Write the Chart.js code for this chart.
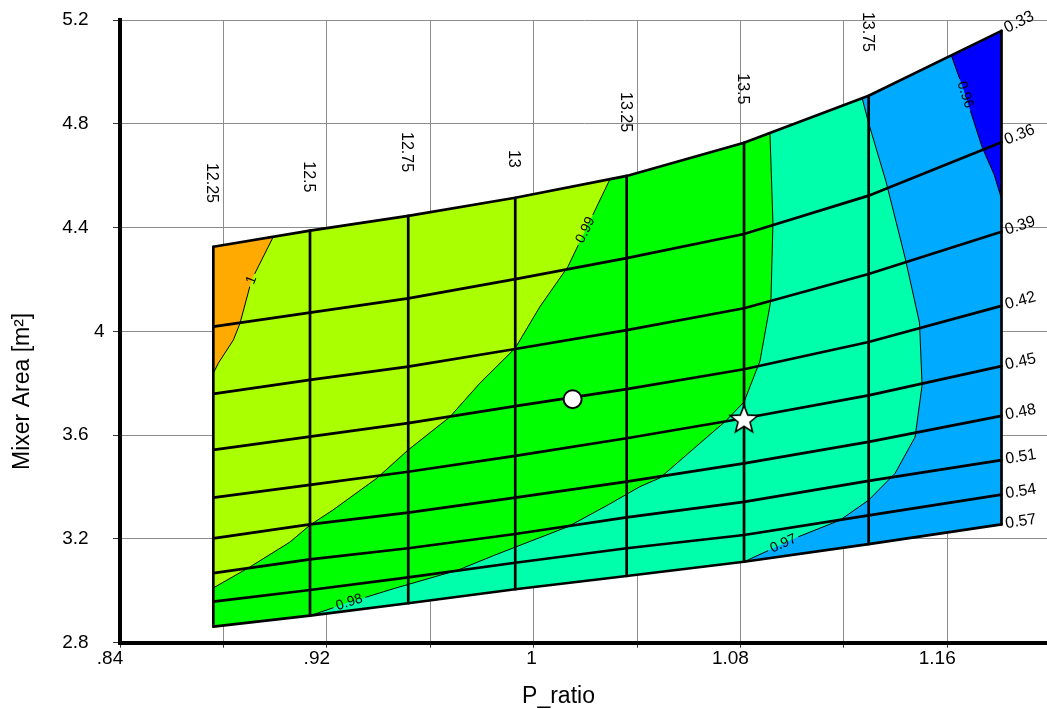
<!DOCTYPE html>
<html>
<head>
<meta charset="utf-8">
<title>Carpet plot – Mixer Area vs P_ratio</title>
<script src="https://cdn.jsdelivr.net/npm/chart.js@4/dist/chart.umd.min.js"></script>
<style>
html, body { margin:0; padding:0; background:#ffffff; }
canvas { display:block; }
</style>
</head>
<body>
<canvas id="chart" width="1047" height="709"></canvas>
<script>
// ================= DATA =================
const carpetA = [12.25, 12.5, 12.75, 13, 13.25, 13.5, 13.75, 14];
const carpetB = [0.33, 0.36, 0.39, 0.42, 0.45, 0.48, 0.51, 0.54, 0.57];
const pRatioAtA = [0.8761, 0.9135, 0.9515, 0.9929, 1.0360, 1.0814, 1.1296, 1.1810];
// Mixer area at each carpet node, one array per A line (ordered by carpetB)
const area_12_25 = [4.326, 4.018, 3.759, 3.543, 3.359, 3.202, 3.068, 2.958, 2.862];
const area_12_50 = [4.388, 4.072, 3.813, 3.594, 3.408, 3.256, 3.121, 3.003, 2.904];
const area_12_75 = [4.445, 4.127, 3.864, 3.646, 3.459, 3.301, 3.164, 3.052, 2.952];
const area_13_00 = [4.515, 4.201, 3.932, 3.712, 3.520, 3.359, 3.219, 3.108, 3.006];
const area_13_25 = [4.599, 4.282, 4.005, 3.777, 3.588, 3.421, 3.283, 3.164, 3.057];
const area_13_50 = [4.727, 4.375, 4.089, 3.854, 3.665, 3.491, 3.343, 3.215, 3.112];
const area_13_75 = [4.908, 4.523, 4.221, 3.959, 3.753, 3.574, 3.424, 3.291, 3.180];
const area_14_00 = [5.158, 4.729, 4.384, 4.098, 3.866, 3.674, 3.504, 3.371, 3.256];
const aLineLabels = ['12.25', '12.5', '12.75', '13', '13.25', '13.5', '13.75', ''];
const bLineLabels = ['0.33', '0.36', '0.39', '0.42', '0.45', '0.48', '0.51', '0.54', '0.57'];
// contour lines, in carpet coordinates [A, B]
const contourLevels = ['1', '0.99', '0.98', '0.97', '0.96'];
const contour_1_00 = [[12.405,0.33],[12.349,0.3447],[12.319,0.3602],[12.302,0.3672],[12.263,0.3766],[12.25,0.3808]];
const contour_0_99 = [[13.2125,0.33],[13.118,0.3591],[13.055,0.3738],[13.0,0.3896],[12.9175,0.4049],[12.847,0.4203],[12.75,0.4365],[12.6705,0.4516],[12.5585,0.4712],[12.5,0.4806],[12.448,0.4927],[12.345,0.5091],[12.25,0.5255]];
const contour_0_98 = [[13.552,0.33],[13.558,0.3593],[13.554,0.3896],[13.532,0.4177],[13.5,0.440],[13.4596,0.4501],[13.406,0.4618],[13.321,0.4812],[13.2783,0.4859],[13.208,0.4973],[13.118,0.5106],[13.0218,0.5212],[12.9526,0.5291],[12.866,0.5395],[12.716,0.5507],[12.594,0.5607],[12.5,0.57]];
const contour_0_97 = [[13.737,0.33],[13.75,0.3382],[13.7828,0.358],[13.8186,0.3883],[13.8457,0.4177],[13.8506,0.4509],[13.8374,0.4831],[13.7998,0.5075],[13.75,0.5268],[13.6928,0.5403],[13.6064,0.5516],[13.5,0.57]];
const contour_0_96 = [[13.9056,0.33],[13.928,0.3409],[13.9637,0.3593],[13.9865,0.3701],[14,0.379]];
// highlighted points [P_ratio, Mixer Area]
const designPoint = [1.0151, 3.7385];
const optimumPoint = [1.0814, 3.658];
// axes
const xRange = [0.84, 1.1986];
const yRange = [2.8, 5.2];
const xTickValues = [0.84, 0.88, 0.92, 0.96, 1.00, 1.04, 1.08, 1.12, 1.16];
const xTickText = ['.84', '', '.92', '', '1', '', '1.08', '', '1.16'];
const yTickValues = [2.8, 3.2, 3.6, 4.0, 4.4, 4.8, 5.2];
const yTickText = ['2.8', '3.2', '3.6', '4', '4.4', '4.8', '5.2'];
const xTitle = 'P_ratio';
const yTitle = 'Mixer Area [m²]';

// ================= STYLE =================
const FONT = "'Liberation Sans', Arial, Helvetica, sans-serif";
const fillColors = ['#FFAA00', '#AAFF00', '#00FF00', '#00FFAA', '#00AAFF', '#0000FF'];
const contourLabelAt = [1.0, 0.58, 14.95, 10.26, 1.1];

// ================= BUILD =================
const areaCols = [area_12_25, area_12_50, area_12_75, area_13_00, area_13_25, area_13_50, area_13_75, area_14_00];
const contours = [contour_1_00, contour_0_99, contour_0_98, contour_0_97, contour_0_96];
const nA = carpetA.length, nB = carpetB.length;
const A0 = carpetA[0], A1 = carpetA[nA - 1], B0 = carpetB[0], B1 = carpetB[nB - 1];

function carpetXY(a, b) {
  let i = 0; while (i < nA - 2 && a > carpetA[i + 1]) i++;
  let j = 0; while (j < nB - 2 && b > carpetB[j + 1]) j++;
  const fa = (a - carpetA[i]) / (carpetA[i + 1] - carpetA[i]);
  const fb = (b - carpetB[j]) / (carpetB[j + 1] - carpetB[j]);
  const x = pRatioAtA[i] + fa * (pRatioAtA[i + 1] - pRatioAtA[i]);
  const c0 = areaCols[i], c1 = areaCols[i + 1];
  const y0 = c0[j] + fb * (c0[j + 1] - c0[j]);
  const y1 = c1[j] + fb * (c1[j + 1] - c1[j]);
  return { x: x, y: y0 + fa * (y1 - y0) };
}
const EPS = 1e-9;
function perim(a, b) {
  if (Math.abs(a - A0) < EPS) return (b - B0) / (B1 - B0);
  if (Math.abs(b - B1) < EPS) return 1 + (a - A0) / (A1 - A0);
  if (Math.abs(a - A1) < EPS) return 2 + (B1 - b) / (B1 - B0);
  return 3 + (A1 - a) / (A1 - A0);
}
const boundaryLoop = [];
carpetB.forEach(b => boundaryLoop.push([A0, b]));
carpetA.slice(1).forEach(a => boundaryLoop.push([a, B1]));
carpetB.slice(0, -1).reverse().forEach(b => boundaryLoop.push([A1, b]));
carpetA.slice(1, -1).reverse().forEach(a => boundaryLoop.push([a, B0]));

function regionPoly(c) {
  const tP = perim(c[0][0], c[0][1]);
  const tQ = perim(c[c.length - 1][0], c[c.length - 1][1]);
  const fwd = t => ((t - tQ) % 4 + 4) % 4;
  const span = fwd(tP);
  const walk = boundaryLoop.filter(p => { const d = fwd(perim(p[0], p[1])); return d > EPS && d < span - EPS; });
  walk.sort((p, q) => fwd(perim(p[0], p[1])) - fwd(perim(q[0], q[1])));
  return c.concat(walk);
}
// polygon data for fill:'shape' (starts at leftmost vertex, ends with a zero-area spur to the rightmost vertex)
function fillData(poly) {
  const xy = poly.map(p => carpetXY(p[0], p[1]));
  let iMin = 0, iMax = 0;
  xy.forEach((p, i) => { if (p.x < xy[iMin].x) iMin = i; if (p.x > xy[iMax].x) iMax = i; });
  const rot = xy.slice(iMin).concat(xy.slice(0, iMin));
  return rot.concat([rot[0], xy[iMax]]);
}

function makeStar() {
  const c = document.createElement('canvas');
  c.width = 36; c.height = 36;
  const g = c.getContext('2d');
  const R = 14.5, r = 6.3, cx = 18, cy = 18;
  g.beginPath();
  for (let k = 0; k < 10; k++) {
    const ang = -Math.PI / 2 + k * Math.PI / 5;
    const rad = (k % 2) ? r : R;
    g.lineTo(cx + rad * Math.cos(ang), cy + rad * Math.sin(ang));
  }
  g.closePath();
  g.fillStyle = '#ffffff'; g.fill();
  g.lineWidth = 1.6; g.strokeStyle = '#000000'; g.lineJoin = 'miter'; g.stroke();
  return c;
}

const datasets = [];
datasets.push({ label: 'design', data: [{ x: designPoint[0], y: designPoint[1] }], showLine: false, fill: false,
  pointRadius: 9, pointBackgroundColor: '#ffffff', pointBorderColor: '#000000', pointBorderWidth: 2, order: 0 });
datasets.push({ label: 'optimum', data: [{ x: optimumPoint[0], y: optimumPoint[1] }], showLine: false, fill: false,
  pointStyle: makeStar(), pointRadius: 15, order: 0 });
const aLineIndex = [], bLineIndex = [], contourIndex = [];
carpetA.forEach((a, i) => {
  aLineIndex.push(datasets.length);
  datasets.push({ label: 'A ' + a, data: carpetB.map((b, j) => ({ x: pRatioAtA[i], y: areaCols[i][j] })),
    borderColor: '#000000', borderWidth: 2.7, borderCapStyle: 'round', pointRadius: 0, fill: false, tension: 0, order: 1 });
});
carpetB.forEach((b, j) => {
  bLineIndex.push(datasets.length);
  datasets.push({ label: 'B ' + b, data: carpetA.map((a, i) => ({ x: pRatioAtA[i], y: areaCols[i][j] })),
    borderColor: '#000000', borderWidth: 2.7, borderCapStyle: 'round', pointRadius: 0, fill: false, tension: 0, order: 1 });
});
contours.forEach((c, k) => {
  contourIndex.push(datasets.length);
  datasets.push({ label: 'contour ' + contourLevels[k], data: c.map(p => carpetXY(p[0], p[1])),
    borderColor: '#000000', borderWidth: 1, pointRadius: 0, fill: false, tension: 0, order: 2, contourK: k });
});
datasets.push({ label: 'fill base', data: fillData(boundaryLoop), backgroundColor: fillColors[0], fill: 'shape',
  borderWidth: 0, pointRadius: 0, tension: 0, order: 10 });
contours.forEach((c, k) => {
  datasets.push({ label: 'fill ' + contourLevels[k], data: fillData(regionPoly(c)), backgroundColor: fillColors[k + 1], fill: 'shape',
    borderWidth: 0, pointRadius: 0, tension: 0, order: 9 - k });
});

function contourLabelGeom(chart, k) {
  const pts = chart.getDatasetMeta(contourIndex[k]).data;
  const n = pts.length;
  const at = p => {
    p = Math.max(0, Math.min(n - 1, p));
    const i = Math.min(Math.floor(p), n - 2), t = p - i;
    return { x: pts[i].x + t * (pts[i + 1].x - pts[i].x), y: pts[i].y + t * (pts[i + 1].y - pts[i].y) };
  };
  const p = contourLabelAt[k];
  const c = at(p), a0 = at(p - 0.5), a1 = at(p + 0.5);
  let ang = Math.atan2(a1.y - a0.y, a1.x - a0.x);
  if (ang > Math.PI / 2) ang -= Math.PI;
  if (ang <= -Math.PI / 2) ang += Math.PI;
  const ctx = chart.ctx;
  ctx.save(); ctx.font = '14px ' + FONT;
  const w = ctx.measureText(contourLevels[k]).width;
  ctx.restore();
  return { x: c.x, y: c.y, ang: ang, w: w };
}

const carpetPlugin = {
  id: 'carpetText',
  beforeDatasetDraw(chart, args) {
    const ds = chart.data.datasets[args.index];
    if (ds.contourK === undefined) return;
    const g = contourLabelGeom(chart, ds.contourK);
    const ctx = chart.ctx;
    const hw = g.w / 2 + 3, hh = 8;
    const cs = Math.cos(g.ang), sn = Math.sin(g.ang);
    const corners = [[-hw, -hh], [hw, -hh], [hw, hh], [-hw, hh]].map(([u, v]) => [g.x + u * cs - v * sn, g.y + u * sn + v * cs]);
    ctx.save();
    ctx.beginPath();
    ctx.rect(0, 0, chart.width, chart.height);
    ctx.moveTo(corners[0][0], corners[0][1]);
    for (let q = 1; q < 4; q++) ctx.lineTo(corners[q][0], corners[q][1]);
    ctx.closePath();
    ctx.clip('evenodd');
  },
  afterDatasetDraw(chart, args) {
    const ds = chart.data.datasets[args.index];
    if (ds.contourK === undefined) return;
    chart.ctx.restore();
  },
  afterDatasetsDraw(chart) {
    const ctx = chart.ctx, xs = chart.scales.x, ys = chart.scales.y;
    ctx.save();
    ctx.fillStyle = '#000000';
    // A-line labels (rotated, above the top of each line)
    ctx.font = '16px ' + FONT;
    carpetA.forEach((a, i) => {
      const txt = aLineLabels[i];
      if (!txt) return;
      const x = xs.getPixelForValue(pRatioAtA[i]);
      const y = ys.getPixelForValue(areaCols[i][0]);
      const w = ctx.measureText(txt).width;
      const gap = 19 + 0.62 * w;
      ctx.save();
      ctx.translate(x - 1.5, y - gap);
      ctx.rotate(Math.PI / 2);
      ctx.textAlign = 'right'; ctx.textBaseline = 'middle';
      ctx.fillText(txt, 0, 0);
      ctx.restore();
    });
    // B-line labels at the right end of each line
    carpetB.forEach((b, j) => {
      const x1 = xs.getPixelForValue(pRatioAtA[nA - 1]), y1 = ys.getPixelForValue(areaCols[nA - 1][j]);
      const x0 = xs.getPixelForValue(pRatioAtA[nA - 2]), y0 = ys.getPixelForValue(areaCols[nA - 2][j]);
      const ang = Math.atan2(y1 - y0, x1 - x0);
      ctx.save();
      ctx.translate(x1, y1);
      ctx.rotate(ang);
      ctx.textAlign = 'left'; ctx.textBaseline = 'middle';
      ctx.fillText(bLineLabels[j], 4, 0);
      ctx.restore();
    });
    // contour labels
    ctx.font = '14px ' + FONT;
    contours.forEach((c, k) => {
      const g = contourLabelGeom(chart, k);
      ctx.save();
      ctx.translate(g.x, g.y);
      ctx.rotate(g.ang);
      ctx.textAlign = 'center'; ctx.textBaseline = 'middle';
      ctx.fillText(contourLevels[k], 0, 0);
      ctx.restore();
    });
    ctx.restore();
  },
  afterDraw(chart) {
    const ctx = chart.ctx, area = chart.chartArea;
    ctx.save();
    ctx.fillStyle = '#000000';
    ctx.font = '23px ' + FONT;
    ctx.textAlign = 'center'; ctx.textBaseline = 'alphabetic';
    ctx.fillText(xTitle, (area.left + area.right) / 2 - 25, chart.height - 6);
    ctx.translate(28.5, (area.top + area.bottom) / 2 + 60);
    ctx.rotate(-Math.PI / 2);
    ctx.fillText(yTitle, 0, 0);
    ctx.restore();
  }
};

Chart.defaults.font.family = FONT;
Chart.defaults.color = '#000000';

new Chart(document.getElementById('chart'), {
  type: 'line',
  data: { datasets: datasets },
  options: {
    responsive: false,
    animation: false,
    events: [],
    layout: { autoPadding: false, padding: { top: 20, right: 0, bottom: 0, left: 0 } },
    plugins: { legend: { display: false }, tooltip: { enabled: false }, colors: { enabled: false } },
    scales: {
      x: {
        type: 'linear', min: xRange[0], max: xRange[1],
        afterBuildTicks: s => { s.ticks = xTickValues.map(v => ({ value: v })); },
        afterFit: s => { s.height = 709 - 642.7; s.paddingLeft = 0; s.paddingRight = 0; },
        ticks: {
          autoSkip: false, maxRotation: 0, minRotation: 0, padding: 0, labelOffset: -10,
          font: { size: 19, family: FONT }, color: '#000000',
          callback: (v, i) => (xTickText[i] === '1' ? '\u2007 1' : xTickText[i])
        },
        grid: { color: '#8c8c8c', lineWidth: 1, tickLength: 5, tickColor: '#333333' },
        border: { color: '#000000', width: 4 }
      },
      y: {
        type: 'linear', min: yRange[0], max: yRange[1],
        afterBuildTicks: s => { s.ticks = yTickValues.map(v => ({ value: v })); },
        afterFit: s => { s.width = 120; s.paddingTop = 0; s.paddingBottom = 0; },
        ticks: {
          autoSkip: false, padding: 8.5,
          font: { size: 19, family: FONT }, color: '#000000',
          callback: (v, i) => (yTickText[i].indexOf('.') >= 0 ? yTickText[i] + '\u2007 ' : yTickText[i])
        },
        grid: { color: '#8c8c8c', lineWidth: 1, tickLength: 7, tickColor: '#333333' },
        border: { color: '#000000', width: 4 }
      }
    }
  },
  plugins: [carpetPlugin]
});
</script>
</body>
</html>
